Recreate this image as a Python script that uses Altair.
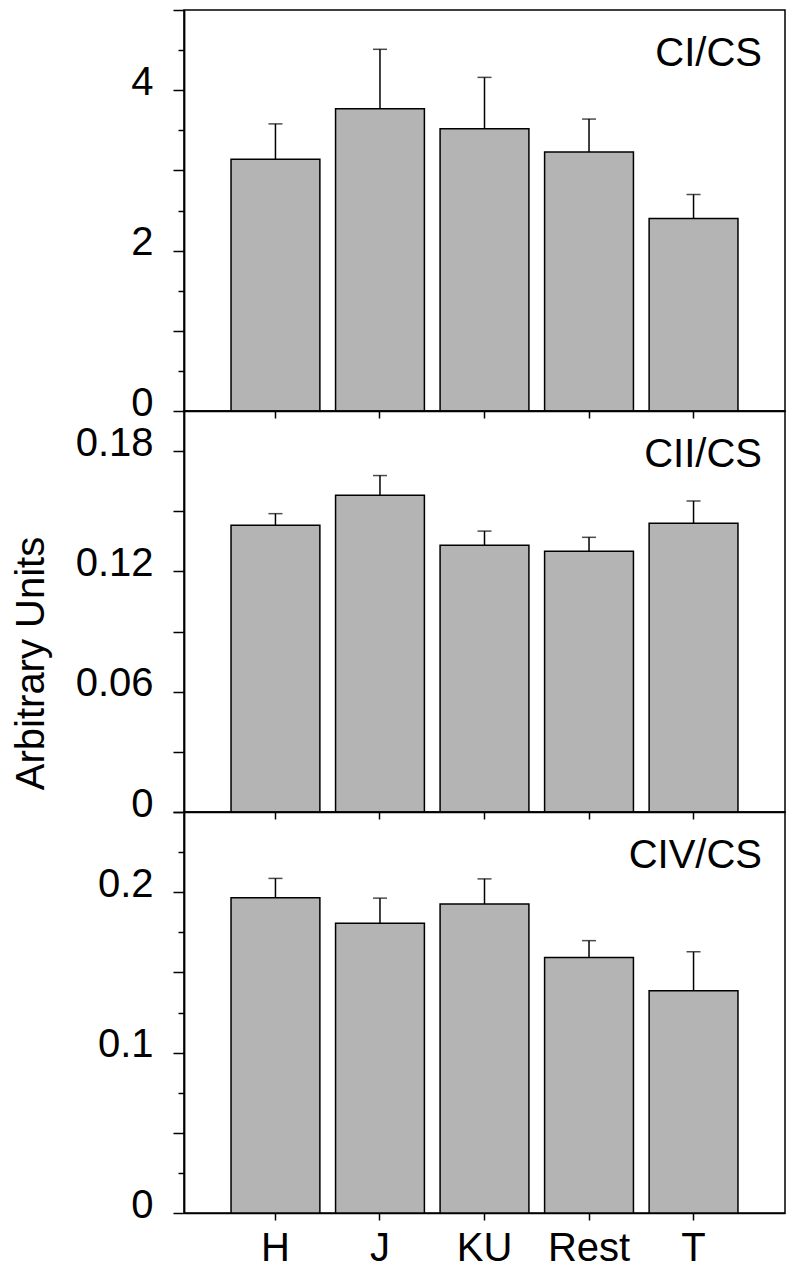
import altair as alt
import pandas as pd

groups = ["H", "J", "KU", "Rest", "T"]

ci_mean = [3.14, 3.77, 3.52, 3.23, 2.40]
ci_err = [0.44, 0.74, 0.64, 0.41, 0.30]

cii_mean = [0.143, 0.158, 0.133, 0.130, 0.144]
cii_err = [0.0058, 0.0098, 0.0071, 0.0070, 0.0111]

civ_mean = [0.1965, 0.1807, 0.1926, 0.1593, 0.1385]
civ_err = [0.0121, 0.0156, 0.0157, 0.0105, 0.0243]

panel_labels = ["CI/CS", "CII/CS", "CIV/CS"]
y_title = "Arbitrary Units"

FONT = "Liberation Sans"
FILL = "#b4b4b4"
W, H = 601, 401


def panel(label, means, errs, domain, major_vals, label_test, label_fmt,
          minor_vals=None, top_vals=None, title=None, show_x_labels=False):
    df = pd.DataFrame({
        "group": groups,
        "mean": means,
        "upper": [m + e for m, e in zip(means, errs)],
    })
    xscale = alt.Scale(paddingInner=0.15, paddingOuter=0.45)
    xaxis = alt.Axis(
        title=None, labels=show_x_labels, labelAngle=0, labelFontSize=40,
        labelPadding=8, tickSize=7, tickWidth=1.5, domainWidth=1.5,
    )
    yscale = alt.Scale(domain=domain, nice=False, zero=True)
    major_kwargs = dict(
        values=major_vals,
        tickSize=11, tickWidth=1.5, domainWidth=1.8,
        labelFontSize=40, labelPadding=20, labelOffset=-8,
        labelExpr=f"({label_test}) ? (datum.value == 0 ? '0' : format(datum.value, '{label_fmt}')) : ''",
    )
    if title:
        major_axis = alt.Axis(title=title, titleFontSize=40, titleFontWeight="normal",
                              titlePadding=24, titleY=252, **major_kwargs)
    else:
        major_axis = alt.Axis(title=None, **major_kwargs)

    base = alt.Chart(df)
    bars = base.mark_bar(fill=FILL, stroke="black", strokeWidth=1.5).encode(
        x=alt.X("group:N", sort=groups, scale=xscale, axis=xaxis),
        y=alt.Y("mean:Q", scale=yscale, axis=major_axis),
    )
    if minor_vals:
        minor_axis = alt.Axis(orient="left", values=minor_vals, labels=False, domain=False,
                              tickSize=6, tickWidth=1.5, title=None)
    else:
        minor_axis = None
    if top_vals:
        top_axis = alt.Axis(orient="left", values=top_vals, labels=False, domain=False,
                            tickSize=11, tickWidth=1.5, title=None)
    else:
        top_axis = None
    rules = base.mark_rule(color="black", strokeWidth=1.5).encode(
        x=alt.X("group:N", sort=groups),
        y=alt.Y("mean:Q", axis=minor_axis),
        y2="upper:Q",
    )
    caps = base.mark_tick(color="black", size=14, thickness=1.5).encode(
        x=alt.X("group:N", sort=groups),
        y=alt.Y("upper:Q", axis=top_axis),
    )
    txt = alt.Chart(pd.DataFrame({"t": [label]})).mark_text(
        font=FONT, fontSize=40, align="right", baseline="alphabetic", color="black"
    ).encode(x=alt.value(578), y=alt.value(56), text="t:N")
    return alt.layer(bars, rules, caps, txt).resolve_axis(y="independent").properties(
        width=W, height=H
    )


p1 = panel(
    panel_labels[0], ci_mean, ci_err, [0, 5],
    [0, 1, 2, 3, 4], "datum.value % 2 == 0", "d",
    minor_vals=[0.5, 1.5, 2.5, 3.5, 4.5],
    top_vals=[5],
)
p2 = panel(
    panel_labels[1], cii_mean, cii_err, [0, 0.2],
    [0, 0.03, 0.06, 0.09, 0.12, 0.15, 0.18],
    "round(datum.value * 100) % 6 == 0", ".2f",
    title=y_title,
)
p3 = panel(
    panel_labels[2], civ_mean, civ_err, [0, 0.25],
    [0, 0.05, 0.1, 0.15, 0.2],
    "round(datum.value * 100) % 10 == 0", ".1f",
    minor_vals=[0.025, 0.075, 0.125, 0.175, 0.225],
    top_vals=[0.25],
    show_x_labels=True,
)

chart = alt.vconcat(p1, p2, p3, spacing=0, bounds="flush").properties(
    padding={"left": 2, "top": 0, "right": 1, "bottom": 0}
).configure_view(
    stroke="black", strokeWidth=1.5
).configure_axis(
    labelFont=FONT, titleFont=FONT, labelColor="black", titleColor="black",
    domainColor="black", tickColor="black", grid=False,
)

chart.save("out.html", embed_options={"renderer": "svg", "actions": False})
